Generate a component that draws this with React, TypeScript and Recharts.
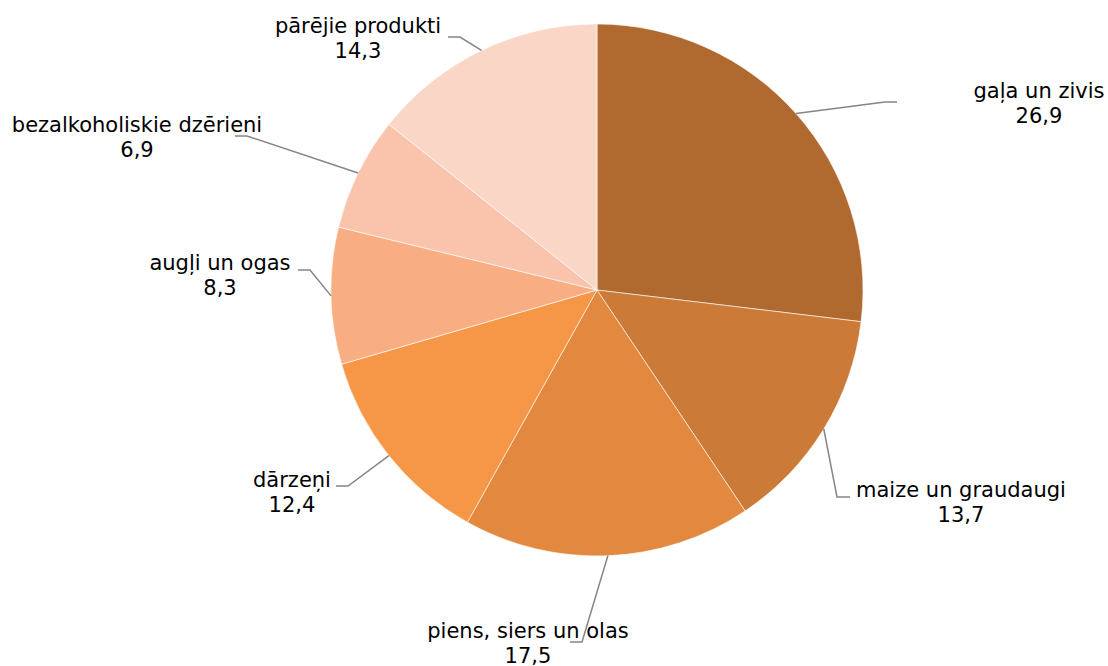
import { PieChart, Pie, Cell } from "recharts"

const categories = [
  "gaļa un zivis",
  "maize un graudaugi",
  "piens, siers un olas",
  "dārzeņi",
  "augļi un ogas",
  "bezalkoholiskie dzērieni",
  "pārējie produkti",
]
const shares = [26.9, 13.7, 17.5, 12.4, 8.3, 6.9, 14.3]
const colors = ["#B06A30", "#CB7A37", "#E2893F", "#F59746", "#F8AE82", "#F9C4AB", "#F9D6C6"]

// leader line elbow / end and text position, per slice (layout only)
const labelLayout = [
  { elbow: [885, 102], end: [897, 102], tx: 1039, ty: 98 },
  { elbow: [837, 497], end: [850, 497], tx: 961, ty: 497 },
  { elbow: [582, 642], end: [570, 642], tx: 528, ty: 638 },
  { elbow: [348, 486], end: [336, 486], tx: 292, ty: 487 },
  { elbow: [310, 270], end: [298, 270], tx: 220, ty: 270 },
  { elbow: [247, 136], end: [235, 136], tx: 137, ty: 132 },
  { elbow: [460, 37], end: [448, 37], tx: 358, ty: 33 },
]

const data = categories.map((name, i) => ({ name, value: shares[i] }))

const RAD = Math.PI / 180

function renderLabel(props: any) {
  const { cx, cy, midAngle, outerRadius, index } = props
  const lay = labelLayout[index]
  const sx = cx + outerRadius * Math.cos(-midAngle * RAD)
  const sy = cy + outerRadius * Math.sin(-midAngle * RAD)
  const value = shares[index].toFixed(1).replace(".", ",")
  return (
    <g key={`lbl-${index}`}>
      <polyline
        points={`${sx},${sy} ${lay.elbow[0]},${lay.elbow[1]} ${lay.end[0]},${lay.end[1]}`}
        fill="none"
        stroke="#858585"
        strokeWidth={1.5}
      />
      <text x={lay.tx} y={lay.ty} textAnchor="middle" fill="#000" fontSize={21} fontFamily="DejaVu Sans, Verdana, sans-serif">
        {categories[index]}
      </text>
      <text x={lay.tx} y={lay.ty + 25} textAnchor="middle" fill="#000" fontSize={21} fontFamily="DejaVu Sans, Verdana, sans-serif">
        {value}
      </text>
    </g>
  )
}

export default function App() {
  return (
    <div style={{ position: "absolute", left: 0, top: 0, width: 1108, height: 666, background: "#fff" }}>
      <PieChart width={1108} height={666} margin={{ top: 0, right: 0, bottom: 0, left: 0 }}>
        <Pie
          data={data}
          dataKey="value"
          nameKey="name"
          cx={597}
          cy={290}
          outerRadius={266}
          startAngle={90}
          endAngle={-270}
          stroke="#fff"
          strokeWidth={0.6}
          label={renderLabel}
          labelLine={false}
          isAnimationActive={false}
        >
          {data.map((d, i) => (
            <Cell key={d.name} fill={colors[i]} />
          ))}
        </Pie>
      </PieChart>
    </div>
  )
}
